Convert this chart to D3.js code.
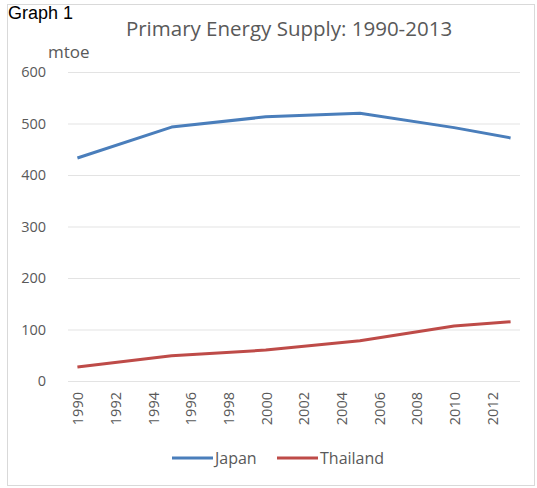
<!DOCTYPE html>
<html>
<head>
<meta charset="utf-8">
<script src="https://cdn.jsdelivr.net/npm/d3@7"></script>
<style>
  body { margin: 0; background: #fff; }
  svg text { font-family: "Open Sans", Lato, sans-serif; fill: #595959; }
</style>
</head>
<body>
<div id="chart"></div>
<script>
// categories on the x axis and the data points (5-year steps)
const years = d3.range(1990, 2014);
const tickYears = [1990, 1992, 1994, 1996, 1998, 2000, 2002, 2004, 2006, 2008, 2010, 2012];
const dataYears = [1990, 1995, 2000, 2005, 2010, 2013];
const japan = [433, 493, 513, 520, 492, 472];
const thailand = [27, 49, 60, 78, 107, 115];
const yTicks = [0, 100, 200, 300, 400, 500, 600];

const series = [
    { name: "Japan", values: japan, color: "#4a7ebb" },
    { name: "Thailand", values: thailand, color: "#be4b48" }
];

const W = 537, H = 488;
const svg = d3.select("#chart").append("svg")
    .attr("width", W).attr("height", H);

// outer frame
svg.append("rect")
    .attr("x", 7.5).attr("y", 4.5)
    .attr("width", 527).attr("height", 481)
    .attr("fill", "none").attr("stroke", "#d9d9d9");

svg.append("text")
    .attr("x", 8).attr("y", 19)
    .style("font-family", "Liberation Sans, Arial, sans-serif")
    .style("font-size", "18px").style("fill", "#000")
    .text("Graph 1");

svg.append("text")
    .attr("x", 289).attr("y", 36)
    .attr("text-anchor", "middle")
    .style("font-size", "20.5px")
    .text("Primary Energy Supply: 1990-2013");

svg.append("text")
    .attr("x", 48).attr("y", 58)
    .style("font-size", "17px")
    .text("mtoe");

const x = d3.scalePoint().domain(years).range([68, 520]).padding(0.5);
const y = d3.scaleLinear().domain([0, 600]).range([381, 72]);

// gridlines
svg.append("g").selectAll("line")
    .data(yTicks).enter().append("line")
    .attr("x1", 68).attr("x2", 520)
    .attr("y1", d => y(d) + 0.5).attr("y2", d => y(d) + 0.5)
    .attr("stroke", "#e3e3e3").attr("stroke-width", 1.2);

// y labels
svg.append("g").selectAll("text")
    .data(yTicks).enter().append("text")
    .attr("x", 46).attr("y", d => y(d) + 5)
    .attr("text-anchor", "end")
    .style("font-size", "14.5px")
    .text(d => d);

// x labels, rotated
svg.append("g").selectAll("text")
    .data(tickYears).enter().append("text")
    .attr("transform", d => `translate(${x(d) + 6},392) rotate(-90)`)
    .attr("text-anchor", "end")
    .style("font-size", "14.5px")
    .text(d => d);

const line = d3.line()
    .x((d, i) => x(dataYears[i]))
    .y(d => y(d));

svg.append("g").selectAll("path")
    .data(series).enter().append("path")
    .attr("d", d => line(d.values))
    .attr("fill", "none")
    .attr("stroke", d => d.color)
    .attr("stroke-width", 3)
    .attr("stroke-linejoin", "round");

// legend
const legendX = [172, 277];
const lg = svg.append("g").selectAll("g")
    .data(series).enter().append("g")
    .attr("transform", (d, i) => `translate(${legendX[i]},458)`);
lg.append("line")
    .attr("x1", 0).attr("x2", 41)
    .attr("stroke", d => d.color).attr("stroke-width", 3);
lg.append("text")
    .attr("x", 43).attr("y", 6)
    .style("font-size", "16px")
    .text(d => d.name);
</script>
</body>
</html>
